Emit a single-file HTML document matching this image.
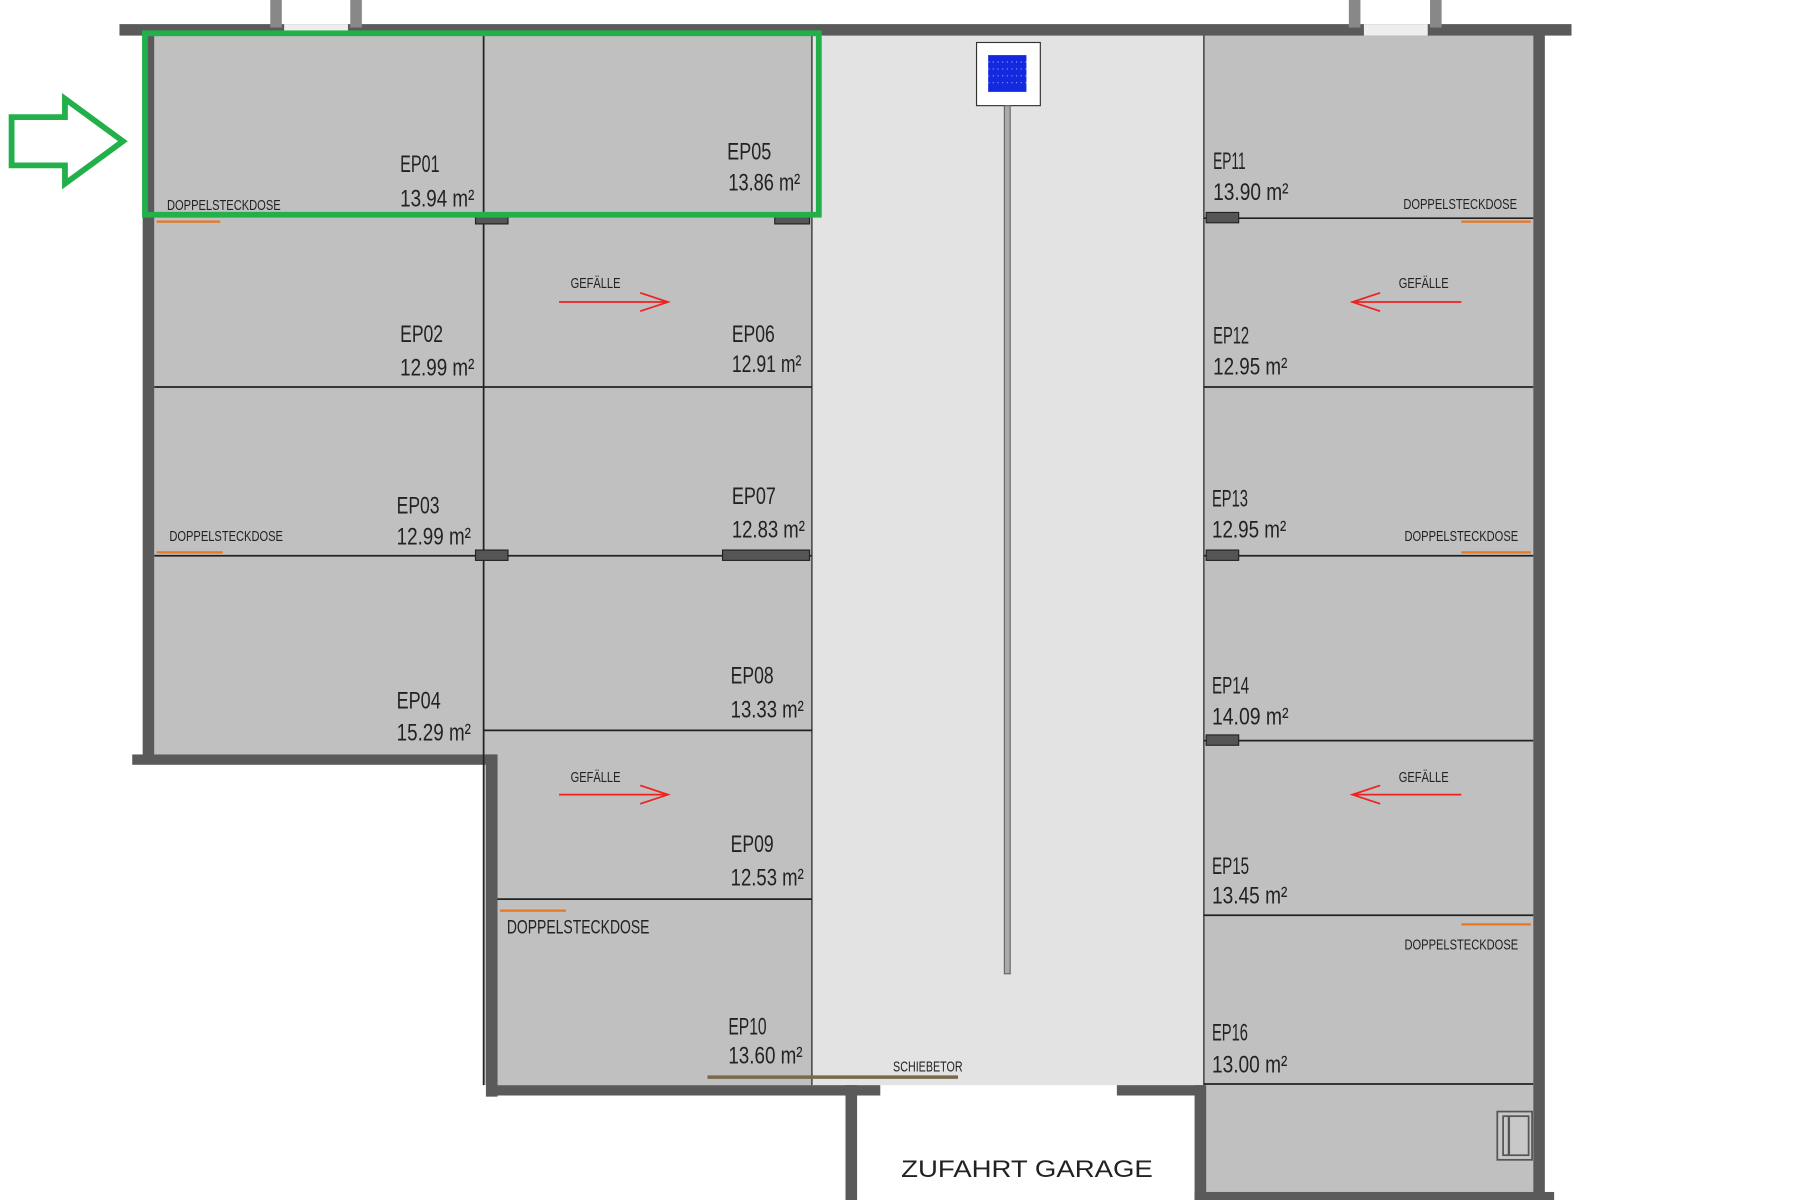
<!DOCTYPE html>
<html><head><meta charset="utf-8"><style>
html,body{margin:0;padding:0;background:#fff;width:1800px;height:1200px;overflow:hidden}
svg{display:block}
text{font-family:"Liberation Sans",sans-serif;fill:#222}
.l{font-size:21px}
.s{font-size:13px}
</style></head><body>
<svg width="1800" height="1200" viewBox="0 0 1552 1045" preserveAspectRatio="none" xmlns="http://www.w3.org/2000/svg">
<rect x="133" y="30" width="284" height="627" fill="#c0c0c0"/>
<rect x="417" y="30" width="283" height="915" fill="#c0c0c0"/>
<rect x="700" y="30" width="338" height="915" fill="#e3e3e3"/>
<rect x="1038" y="30" width="284" height="1010" fill="#c0c0c0"/>
<rect x="103" y="21" width="1252" height="10" fill="#5a5a5a"/>
<rect x="245" y="21" width="55" height="10" fill="#eee"/>
<rect x="233" y="0" width="10" height="24" fill="#888"/><rect x="302" y="0" width="10" height="24" fill="#888"/>
<rect x="1176" y="21" width="55" height="10" fill="#eee"/>
<rect x="1163" y="0" width="10" height="24" fill="#888"/><rect x="1233" y="0" width="10" height="24" fill="#888"/>
<rect x="123" y="30" width="10" height="632" fill="#5a5a5a"/>
<rect x="114" y="657" width="314" height="9" fill="#5a5a5a"/>
<rect x="419" y="657" width="10" height="298" fill="#5a5a5a"/>
<rect x="419" y="945" width="340" height="9" fill="#5a5a5a"/>
<rect x="729" y="945" width="10" height="100" fill="#5a5a5a"/>
<rect x="963" y="945" width="75" height="9" fill="#5a5a5a"/>
<rect x="1030" y="945" width="10" height="100" fill="#5a5a5a"/>
<rect x="1322" y="30" width="10" height="1010" fill="#5a5a5a"/>
<rect x="1030" y="1038" width="310" height="7" fill="#5a5a5a"/>
<g stroke="#222" stroke-width="1.5">
<line x1="417" y1="30" x2="417" y2="945"/>
<line x1="700" y1="30" x2="700" y2="945" stroke="#555"/>
<line x1="1038" y1="30" x2="1038" y2="945" stroke="#555"/>
<line x1="133" y1="188" x2="700" y2="188"/>
<line x1="133" y1="337" x2="700" y2="337"/>
<line x1="133" y1="484" x2="700" y2="484"/>
<line x1="417" y1="636" x2="700" y2="636"/>
<line x1="429" y1="783" x2="700" y2="783"/>
<line x1="1038" y1="190" x2="1322" y2="190"/>
<line x1="1038" y1="337" x2="1322" y2="337"/>
<line x1="1038" y1="484" x2="1322" y2="484"/>
<line x1="1038" y1="645" x2="1322" y2="645"/>
<line x1="1038" y1="797" x2="1322" y2="797"/>
<line x1="1038" y1="944" x2="1322" y2="944"/>
</g>
<g fill="#555" stroke="#222">
<rect x="410" y="187" width="28" height="8"/><rect x="668" y="187" width="30" height="8"/>
<rect x="410" y="479" width="28" height="9"/><rect x="623" y="479" width="75" height="9"/>
<rect x="1040" y="185" width="28" height="9"/><rect x="1040" y="479" width="28" height="9"/><rect x="1040" y="640" width="28" height="9"/>
</g>
<g stroke="#e87722" stroke-width="2">
<line x1="135" y1="193" x2="190" y2="193"/>
<line x1="135" y1="481" x2="192" y2="481"/>
<line x1="431" y1="793" x2="488" y2="793"/>
<line x1="1260" y1="193" x2="1320" y2="193"/>
<line x1="1260" y1="481" x2="1320" y2="481"/>
<line x1="1260" y1="805" x2="1320" y2="805"/>
</g>
<rect x="1291" y="968" width="30" height="42" fill="#c8c8c8" stroke="#555" stroke-width="1.5"/>
<rect x="1296" y="972" width="22" height="34" fill="none" stroke="#555" stroke-width="1.5"/>
<line x1="1301" y1="972" x2="1301" y2="1006" stroke="#555" stroke-width="2"/>
<line x1="610" y1="938" x2="826" y2="938" stroke="#7a6a4a" stroke-width="3"/>
<rect x="842" y="37" width="55" height="55" fill="#fff" stroke="#333"/>
<rect x="852" y="48" width="33" height="32" fill="#1428e0"/>
<g stroke="#7fa0ff" stroke-width="1" stroke-dasharray="1,3">
<line x1="852" y1="54" x2="885" y2="54"/><line x1="852" y1="60" x2="885" y2="60"/><line x1="852" y1="66" x2="885" y2="66"/><line x1="852" y1="72" x2="885" y2="72"/>
</g>
<rect x="866" y="92" width="5" height="756" fill="#aaa" stroke="#666" stroke-width="1"/>
<g stroke="#ee2222" stroke-width="1.5" fill="none">
<path d="M482 263 H576 M552 255 L576 263 L552 271"/>
<path d="M482 692 H576 M552 684 L576 692 L552 700"/>
<path d="M1260 263 H1166 M1190 255 L1166 263 L1190 271"/>
<path d="M1260 692 H1166 M1190 684 L1166 692 L1190 700"/>
</g>
<rect x="125" y="29" width="581" height="158" fill="none" stroke="#22b04b" stroke-width="5"/>
<path d="M10 102 H56 V86 L106 123 L56 160 V144 H10 Z" fill="none" stroke="#22b04b" stroke-width="5"/>
<g class="l" lengthAdjust="spacingAndGlyphs">
<text x="345" y="150" textLength="34" lengthAdjust="spacingAndGlyphs">EP01</text><text x="345" y="180" textLength="64" lengthAdjust="spacingAndGlyphs">13.94 m²</text>
<text x="627" y="139" textLength="38" lengthAdjust="spacingAndGlyphs">EP05</text><text x="628" y="166" textLength="62" lengthAdjust="spacingAndGlyphs">13.86 m²</text>
<text x="345" y="298" textLength="37" lengthAdjust="spacingAndGlyphs">EP02</text><text x="345" y="327" textLength="64" lengthAdjust="spacingAndGlyphs">12.99 m²</text>
<text x="631" y="298" textLength="37" lengthAdjust="spacingAndGlyphs">EP06</text><text x="631" y="324" textLength="60" lengthAdjust="spacingAndGlyphs">12.91 m²</text>
<text x="342" y="447" textLength="37" lengthAdjust="spacingAndGlyphs">EP03</text><text x="342" y="474" textLength="64" lengthAdjust="spacingAndGlyphs">12.99 m²</text>
<text x="631" y="439" textLength="38" lengthAdjust="spacingAndGlyphs">EP07</text><text x="631" y="468" textLength="63" lengthAdjust="spacingAndGlyphs">12.83 m²</text>
<text x="342" y="617" textLength="38" lengthAdjust="spacingAndGlyphs">EP04</text><text x="342" y="645" textLength="64" lengthAdjust="spacingAndGlyphs">15.29 m²</text>
<text x="630" y="595" textLength="37" lengthAdjust="spacingAndGlyphs">EP08</text><text x="630" y="625" textLength="63" lengthAdjust="spacingAndGlyphs">13.33 m²</text>
<text x="630" y="742" textLength="37" lengthAdjust="spacingAndGlyphs">EP09</text><text x="630" y="771" textLength="63" lengthAdjust="spacingAndGlyphs">12.53 m²</text>
<text x="628" y="901" textLength="33" lengthAdjust="spacingAndGlyphs">EP10</text><text x="628" y="926" textLength="64" lengthAdjust="spacingAndGlyphs">13.60 m²</text>
<text x="1046" y="147" textLength="28" lengthAdjust="spacingAndGlyphs">EP11</text><text x="1046" y="174" textLength="65" lengthAdjust="spacingAndGlyphs">13.90 m²</text>
<text x="1046" y="299" textLength="31" lengthAdjust="spacingAndGlyphs">EP12</text><text x="1046" y="326" textLength="64" lengthAdjust="spacingAndGlyphs">12.95 m²</text>
<text x="1045" y="441" textLength="31" lengthAdjust="spacingAndGlyphs">EP13</text><text x="1045" y="468" textLength="64" lengthAdjust="spacingAndGlyphs">12.95 m²</text>
<text x="1045" y="604" textLength="32" lengthAdjust="spacingAndGlyphs">EP14</text><text x="1045" y="631" textLength="66" lengthAdjust="spacingAndGlyphs">14.09 m²</text>
<text x="1045" y="761" textLength="32" lengthAdjust="spacingAndGlyphs">EP15</text><text x="1045" y="787" textLength="65" lengthAdjust="spacingAndGlyphs">13.45 m²</text>
<text x="1045" y="906" textLength="31" lengthAdjust="spacingAndGlyphs">EP16</text><text x="1045" y="934" textLength="65" lengthAdjust="spacingAndGlyphs">13.00 m²</text>
</g>
<g class="s">
<text x="144" y="183" textLength="98" lengthAdjust="spacingAndGlyphs">DOPPELSTECKDOSE</text>
<text x="146" y="471" textLength="98" lengthAdjust="spacingAndGlyphs">DOPPELSTECKDOSE</text>
<text x="1210" y="182" textLength="98" lengthAdjust="spacingAndGlyphs">DOPPELSTECKDOSE</text>
<text x="1211" y="471" textLength="98" lengthAdjust="spacingAndGlyphs">DOPPELSTECKDOSE</text>
<text x="1211" y="827" textLength="98" lengthAdjust="spacingAndGlyphs">DOPPELSTECKDOSE</text>
<text x="492" y="251" textLength="43" lengthAdjust="spacingAndGlyphs">GEFÄLLE</text>
<text x="492" y="681" textLength="43" lengthAdjust="spacingAndGlyphs">GEFÄLLE</text>
<text x="1206" y="251" textLength="43" lengthAdjust="spacingAndGlyphs">GEFÄLLE</text>
<text x="1206" y="681" textLength="43" lengthAdjust="spacingAndGlyphs">GEFÄLLE</text>
<text x="770" y="933" textLength="60" lengthAdjust="spacingAndGlyphs">SCHIEBETOR</text>
</g>
<text x="437" y="813" style="font-size:17px" textLength="123" lengthAdjust="spacingAndGlyphs">DOPPELSTECKDOSE</text>
<text x="777" y="1025" style="font-size:21px" textLength="217" lengthAdjust="spacingAndGlyphs">ZUFAHRT GARAGE</text>
</svg>
</body></html>
